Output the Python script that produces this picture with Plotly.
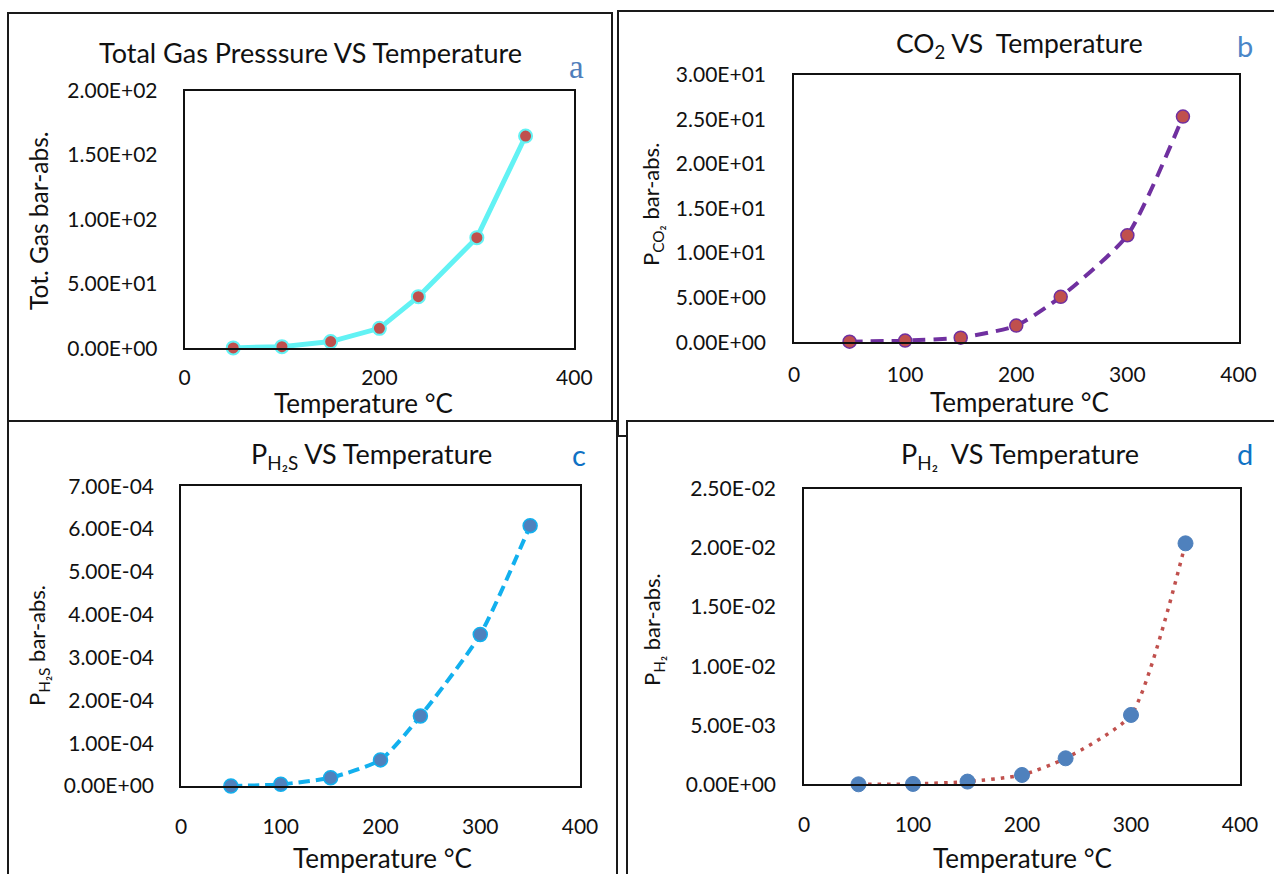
import plotly.graph_objects as go

W, H = 1274, 874

# ---------------- data ----------------
temps = [50, 100, 150, 200, 240, 300, 350]
total_gas = [0.3, 1.3, 5.2, 15.5, 40.1, 85.9, 164.8]
p_co2 = [0.07, 0.19, 0.52, 1.87, 5.1, 12.0, 25.3]
p_h2s = [0.0, 3.9e-6, 1.95e-5, 6.1e-5, 1.635e-4, 3.54e-4, 6.08e-4]
p_h2 = [0.0, 3e-5, 2.3e-4, 7.9e-4, 2.2e-3, 5.87e-3, 2.04e-2]

x_ticks_a = [0, 200, 400]
x_ticks = [0, 100, 200, 300, 400]

y_ticks_a = [0, 50, 100, 150, 200]
y_text_a = ["0.00E+00", "5.00E+01", "1.00E+02", "1.50E+02", "2.00E+02"]
y_ticks_b = [0, 5, 10, 15, 20, 25, 30]
y_text_b = ["0.00E+00", "5.00E+00", "1.00E+01", "1.50E+01", "2.00E+01", "2.50E+01", "3.00E+01"]
y_ticks_c = [0, 1e-4, 2e-4, 3e-4, 4e-4, 5e-4, 6e-4, 7e-4]
y_text_c = ["0.00E+00", "1.00E-04", "2.00E-04", "3.00E-04", "4.00E-04", "5.00E-04", "6.00E-04", "7.00E-04"]
y_ticks_d = [0, 5e-3, 1e-2, 1.5e-2, 2e-2, 2.5e-2]
y_text_d = ["0.00E+00", "5.00E-03", "1.00E-02", "1.50E-02", "2.00E-02", "2.50E-02"]

# ---------------- helpers ----------------
def px(x):
    return x / W

def py(y):
    return 1 - y / H

FONT = "Lato, 'Open Sans', sans-serif"
TXT = "#111111"

fig = go.Figure()

# a: total gas
fig.add_trace(go.Scatter(
    x=temps, y=total_gas, mode="lines+markers", xaxis="x", yaxis="y",
    line=dict(color="#62F2F4", width=5),
    marker=dict(size=13, color="#C0504D", line=dict(color="#62F2F4", width=2)),
    cliponaxis=False, showlegend=False))
# b: CO2
fig.add_trace(go.Scatter(
    x=temps, y=p_co2, mode="lines+markers", xaxis="x2", yaxis="y2",
    line=dict(color="#7030A0", width=4, dash="13px,8px", shape="spline", smoothing=0.6),
    marker=dict(size=13, color="#C0504D", line=dict(color="#7030A0", width=1.5)),
    cliponaxis=False, showlegend=False))
# c: H2S
fig.add_trace(go.Scatter(
    x=temps, y=p_h2s, mode="lines+markers", xaxis="x3", yaxis="y3",
    line=dict(color="#12B0EE", width=4, dash="11px,6px", shape="spline", smoothing=0.6),
    marker=dict(size=14, color="#4F81BD", line=dict(color="#12B0EE", width=1.5)),
    cliponaxis=False, showlegend=False))
# d: H2
fig.add_trace(go.Scatter(
    x=temps, y=p_h2, mode="lines+markers", xaxis="x4", yaxis="y4",
    line=dict(color="#C0504D", width=3.5, dash="3.5px,6px", shape="spline", smoothing=0.6),
    marker=dict(size=15, color="#4F81BD", line=dict(color="#4F81BD", width=1)),
    cliponaxis=False, showlegend=False))

axis_common = dict(showline=True, linecolor="#111111", linewidth=1.6, mirror=True,
                   showgrid=False, zeroline=False, ticks="", automargin=False,
                   tickfont=dict(family=FONT, size=21, color=TXT))

# plot area pixel boxes: (left, right, top, bottom)
boxes = {
    "a": (184.5, 574.3, 90.7, 348.3),
    "b": (794.0, 1238.5, 74.7, 342.3),
    "c": (181.0, 580.0, 486.3, 786.0),
    "d": (804.0, 1240.0, 489.0, 784.3),
}

def dom(b):
    l, r, t, bt = b
    return [px(l), px(r)], [py(bt), py(t)]

xa, ya = dom(boxes["a"])
xb, yb = dom(boxes["b"])
xc, yc = dom(boxes["c"])
xd, yd = dom(boxes["d"])

fig.update_layout(
    template="none",
    width=W, height=H,
    margin=dict(l=0, r=0, t=0, b=0, pad=0, autoexpand=False),
    paper_bgcolor="white", plot_bgcolor="rgba(0,0,0,0)",
    xaxis=dict(domain=xa, anchor="y", range=[0, 400], tickvals=x_ticks_a,
               ticklabelstandoff=10, **axis_common),
    yaxis=dict(domain=ya, anchor="x", range=[0, 200], tickvals=y_ticks_a, ticktext=y_text_a,
               ticklabelstandoff=21, **axis_common),
    xaxis2=dict(domain=xb, anchor="y2", range=[0, 400], tickvals=x_ticks,
                ticklabelstandoff=13, **axis_common),
    yaxis2=dict(domain=yb, anchor="x2", range=[0, 30], tickvals=y_ticks_b, ticktext=y_text_b,
                ticklabelstandoff=22, **axis_common),
    xaxis3=dict(domain=xc, anchor="y3", range=[0, 400], tickvals=x_ticks,
                ticklabelstandoff=21, **axis_common),
    yaxis3=dict(domain=yc, anchor="x3", range=[0, 7e-4], tickvals=y_ticks_c, ticktext=y_text_c,
                ticklabelstandoff=21, **axis_common),
    xaxis4=dict(domain=xd, anchor="y4", range=[0, 400], tickvals=x_ticks,
                ticklabelstandoff=21, **axis_common),
    yaxis4=dict(domain=yd, anchor="x4", range=[0, 0.025], tickvals=y_ticks_d, ticktext=y_text_d,
                ticklabelstandoff=22, **axis_common),
)

# panel borders
border = dict(color="#1a1a1a", width=2)
shapes = [
    dict(type="rect", xref="paper", yref="paper", x0=px(8), x1=px(612), y0=py(421), y1=py(13),
         line=border, fillcolor="rgba(0,0,0,0)", layer="below"),
    dict(type="rect", xref="paper", yref="paper", x0=px(618), x1=px(1290), y0=py(436), y1=py(11),
         line=border, fillcolor="rgba(0,0,0,0)", layer="below"),
    dict(type="rect", xref="paper", yref="paper", x0=px(8), x1=px(617), y0=py(900), y1=py(421),
         line=border, fillcolor="rgba(0,0,0,0)", layer="below"),
    dict(type="rect", xref="paper", yref="paper", x0=px(627), x1=px(1290), y0=py(900), y1=py(421),
         line=border, fillcolor="white", layer="below"),
]
fig.update_layout(shapes=shapes)

def ann(text, x, y, size, color=TXT, angle=0, family=FONT):
    fig.add_annotation(text=text, x=px(x), y=py(y), xref="paper", yref="paper",
                       xanchor="center", yanchor="middle", showarrow=False,
                       textangle=angle, font=dict(family=family, size=size, color=color))

# titles
ann("Total Gas Presssure VS Temperature", 310, 53, 27)
ann("CO<sub>2</sub> VS  Temperature", 1019, 45, 26.5)
ann("P<sub>H₂S</sub> VS Temperature", 371, 455, 27)
ann("P<sub>H₂</sub>  VS Temperature", 1020, 455, 27)

# panel letters
ann("a", 576, 67, 33, color="#4F7EBB", family="'Liberation Serif', serif")
ann("b", 1245, 45, 29, color="#4A86C8")
ann("c", 579, 454, 29, color="#0F72C4")
ann("d", 1245, 453, 29, color="#0F72C4")

# x-axis titles
ann("Temperature °C", 363, 403, 26)
ann("Temperature °C", 1019, 402, 26)
ann("Temperature °C", 382, 858, 26)
ann("Temperature °C", 1022, 858, 26)

# y-axis titles
ann("Tot. Gas bar-abs.", 38, 221, 24.5, angle=-90)
ann("P<sub>CO₂</sub> bar-abs.", 652, 205, 22, angle=-90)
ann("P<sub>H₂S</sub> bar-abs.", 38, 646, 22, angle=-90)
ann("P<sub>H₂</sub> bar-abs.", 653, 630, 22, angle=-90)

fig.write_html("out.html", config={"displayModeBar": False},
               post_script="document.body.style.margin='0px';")
